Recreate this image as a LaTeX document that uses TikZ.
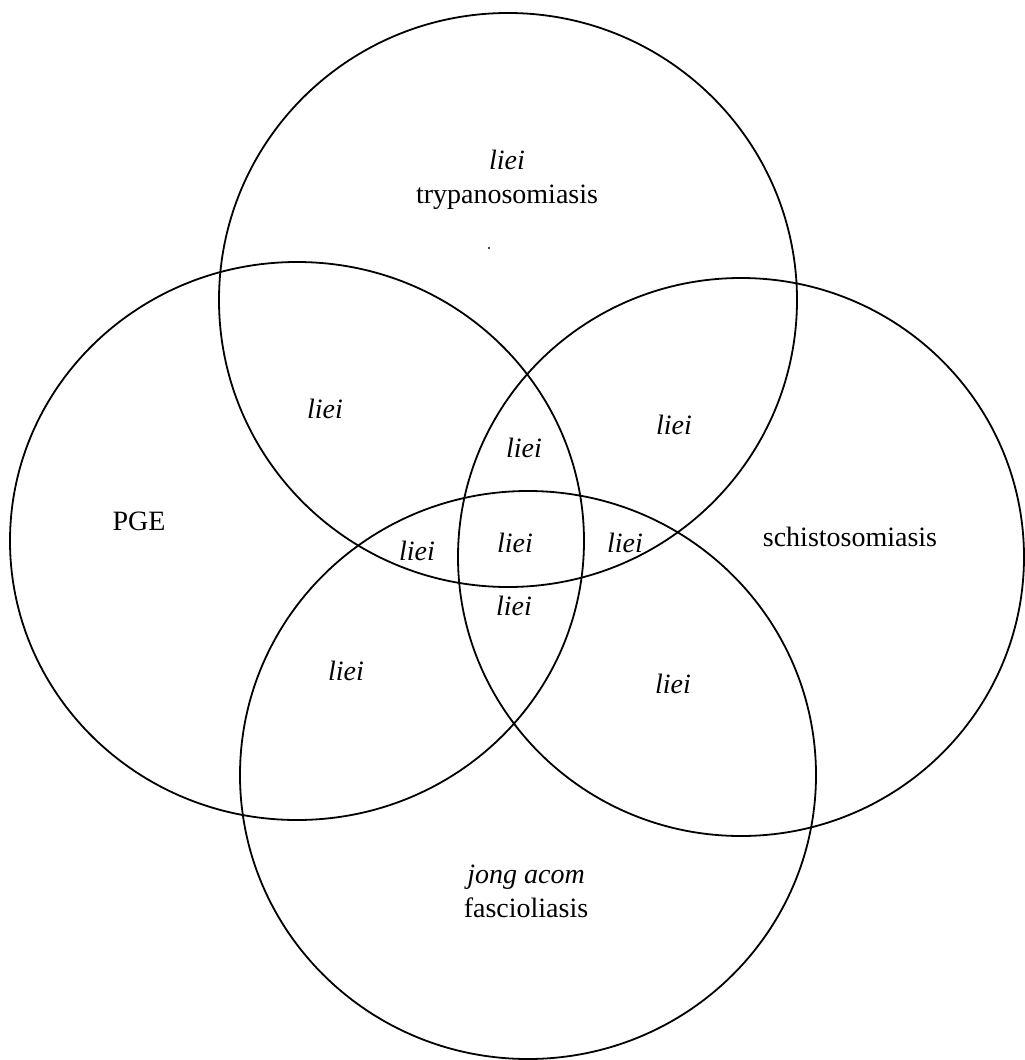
\documentclass[tikz,border=0pt]{standalone}
\usepackage{fontspec}
\setmainfont{Liberation Serif}
\usepackage{tikz}

\begin{document}
\begin{tikzpicture}[x=1pt, y=-1pt,
    set/.style={draw, line width=1.8pt},
    every node/.style={font=\fontsize{28}{34}\selectfont, inner sep=0pt},
    region/.style={font=\fontsize{28}{34}\selectfont\itshape},
    setname/.style={align=center}
]
    \useasboundingbox (0,0) rectangle (1025,1060);
    % the four sets
    \draw[set] (508,300) ellipse [x radius=289, y radius=287];
    \draw[set] (297,541) ellipse [x radius=287, y radius=279];
    \draw[set] (741,557) ellipse [x radius=283, y radius=279];
    \draw[set] (528,775) ellipse [x radius=288, y radius=284];
    \fill (489,248) circle (1.2);
    % set names
    \node[setname] (tryp) at (507,180) {\textit{liei}\\trypanosomiasis};
    \node[setname] (pge) at (139,521) {PGE};
    \node[setname] (schis) at (850,537) {schistosomiasis};
    \node[setname] (fasc) at (526,891) {\textit{jong acom}\\fascioliasis};
    % overlaps
    \node[region] (tl) at (325,409) {liei};
    \node[region] (tr) at (674,425) {liei};
    \node[region] (tm) at (524,448) {liei};
    \node[region] (ml) at (417,551) {liei};
    \node[region] (mm) at (515,543) {liei};
    \node[region] (mr) at (625,543) {liei};
    \node[region] (bm) at (514,606) {liei};
    \node[region] (bl) at (346,671) {liei};
    \node[region] (br) at (673,684) {liei};
\end{tikzpicture}
\end{document}
